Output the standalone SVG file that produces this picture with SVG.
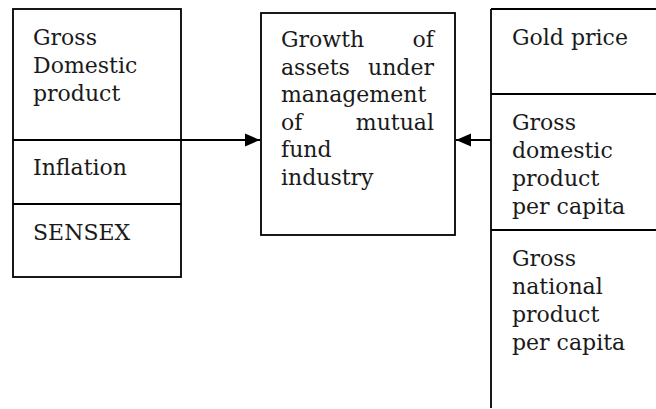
<svg xmlns="http://www.w3.org/2000/svg" width="656" height="409" viewBox="0 0 656 409">
<style>
.box{fill:none;stroke:#000;stroke-width:1.8}
.ln{stroke:#000;stroke-width:1.8;fill:none}
.t{font-family:"DejaVu Serif","Liberation Serif",serif;font-size:22px;fill:#1a1a1a}
.r{text-anchor:end}
.conn{stroke:#000;stroke-width:2.2;fill:none}
</style>
<defs>
<marker id="ah" viewBox="0 0 15 13" refX="15" refY="6.5" markerWidth="15" markerHeight="13" markerUnits="userSpaceOnUse" orient="auto" style="overflow:visible">
<path d="M0,0 L15,6.5 L0,13 Z" fill="#000"/>
</marker>
</defs>
<g id="left">
<rect class="box" x="13" y="9" width="168" height="268"/>
<line class="ln" x1="13" y1="140" x2="181" y2="140"/>
<line class="ln" x1="13" y1="204" x2="181" y2="204"/>
<text class="t" x="33" y="45">Gross</text>
<text class="t" x="33" y="73">Domestic</text>
<text class="t" x="33" y="101">product</text>
<text class="t" x="33" y="175">Inflation</text>
<text class="t" x="33" y="240">SENSEX</text>
</g>
<g id="center">
<rect class="box" x="261" y="13" width="194" height="222"/>
<text class="t" x="281" y="47">Growth</text><text class="t r" x="434" y="47">of</text>
<text class="t" x="281" y="75">assets</text><text class="t r" x="434" y="75">under</text>
<text class="t" x="281" y="102">management</text>
<text class="t" x="281" y="130">of</text><text class="t r" x="434" y="130">mutual</text>
<text class="t" x="281" y="157">fund</text>
<text class="t" x="281" y="185">industry</text>
</g>
<g id="right">
<line class="ln" x1="491" y1="9" x2="656" y2="9"/>
<line class="ln" x1="491" y1="9" x2="491" y2="408"/>
<line class="ln" x1="491" y1="94" x2="656" y2="94"/>
<line class="ln" x1="491" y1="230" x2="656" y2="230"/>
<text class="t" x="512" y="45">Gold price</text>
<text class="t" x="512" y="130">Gross</text>
<text class="t" x="512" y="158">domestic</text>
<text class="t" x="512" y="186">product</text>
<text class="t" x="512" y="214">per capita</text>
<text class="t" x="512" y="266">Gross</text>
<text class="t" x="512" y="294">national</text>
<text class="t" x="512" y="322">product</text>
<text class="t" x="512" y="350">per capita</text>
</g>
<g id="connectors">
<line class="conn" x1="181" y1="140" x2="260" y2="140" marker-end="url(#ah)"/>
<line class="conn" x1="491" y1="140" x2="456" y2="140" marker-end="url(#ah)"/>
</g>
</svg>
